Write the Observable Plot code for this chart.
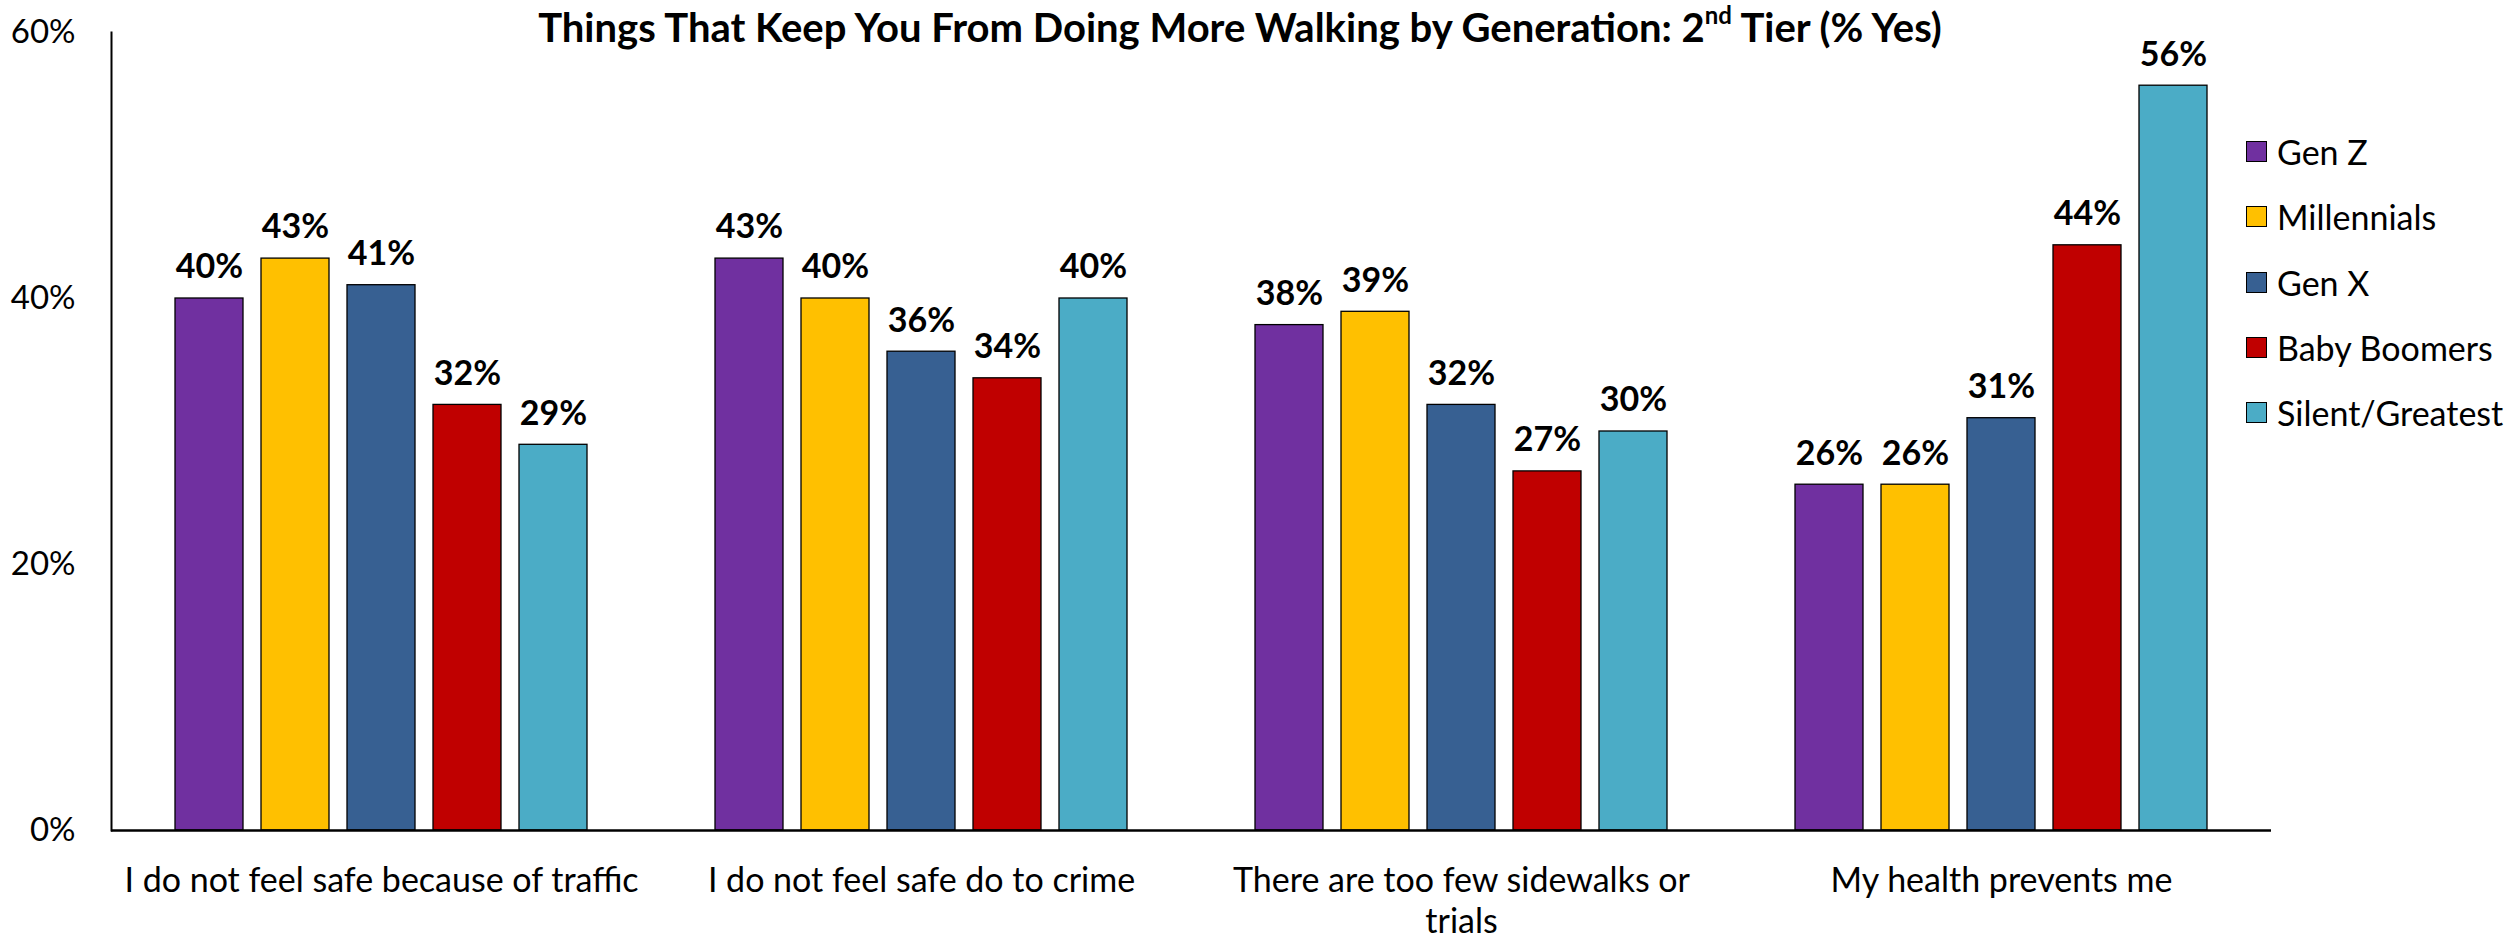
<!DOCTYPE html>
<html>
<head>
<meta charset="utf-8">
<script src="https://cdn.jsdelivr.net/npm/d3@7"></script>
<script src="https://cdn.jsdelivr.net/npm/@observablehq/plot@0.6"></script>
<style>
  html, body { margin: 0; padding: 0; background: #fff; }
  #wrap { position: relative; width: 2512px; height: 939px; font-family: Lato, "Open Sans", sans-serif; }
  #title { position: absolute; left: 0; width: 2480px; top: 4px; text-align: center; font-weight: bold; font-size: 40px; line-height: 46px; color: #000; }
  #title sup { font-size: 60%; line-height: 0; vertical-align: 0.75em; }
  #legend { position: absolute; left: 2246px; top: 119px; }
  .item { display: flex; align-items: center; height: 65.3px; font-size: 34px; color: #000; }
  .sw { width: 19px; height: 19px; border: 1.5px solid #000; margin-right: 10px; box-sizing: content-box; }
</style>
</head>
<body>
<div id="wrap">
  <div id="chart"></div>
  <div id="title"></div>
  <div id="legend"></div>
</div>
<script>
const titleMain = "Things That Keep You From Doing More Walking by Generation: 2";
const titleSup = "nd";
const titleEnd = " Tier (% Yes)";

const categories = [
  "I do not feel safe because of traffic",
  "I do not feel safe do to crime",
  "There are too few sidewalks or trials",
  "My health prevents me"
];
const categoryLabels = [
  "I do not feel safe because of traffic",
  "I do not feel safe do to crime",
  "There are too few sidewalks or\ntrials",
  "My health prevents me"
];
const generations = ["Gen Z", "Millennials", "Gen X", "Baby Boomers", "Silent/Greatest"];
const colors = ["#7030A0", "#FFC000", "#376092", "#C00000", "#4BACC6"];

const genZ        = [0.40, 0.43, 0.38, 0.26];
const millennials = [0.43, 0.40, 0.39, 0.26];
const genX        = [0.41, 0.36, 0.32, 0.31];
const boomers     = [0.32, 0.34, 0.27, 0.44];
const silent      = [0.29, 0.40, 0.30, 0.56];
const series = [genZ, millennials, genX, boomers, silent];

const yTicks = [0, 0.2, 0.4, 0.6];

const rows = [];
categories.forEach((c, i) => {
  generations.forEach((g, j) => rows.push({cat: c, gen: g, value: series[j][i]}));
});

const labelOf = new Map(categories.map((c, i) => [c, categoryLabels[i]]));
const pct = d3.format(".0%");

const chart = Plot.plot({
  width: 2512,
  height: 939,
  marginLeft: 111,
  marginRight: 241,
  marginTop: 32,
  marginBottom: 109,
  style: {fontFamily: "Lato, 'Open Sans', sans-serif", background: "#fff", color: "#000"},
  fx: {domain: categories, paddingInner: 0, paddingOuter: 0, label: null},
  x: {domain: generations, paddingInner: 0.208, paddingOuter: 0.725, axis: null},
  y: {domain: [0, 0.6], ticks: yTicks, label: null},
  color: {domain: generations, range: colors},
  marks: [
    Plot.axisY({ticks: yTicks, tickFormat: pct, tickSize: 0, tickPadding: 36, fontSize: 33, label: null}),
    Plot.axisFx({anchor: "bottom", tickSize: 0, tickPadding: 32, fontSize: 34, lineHeight: 1.22, tickFormat: d => labelOf.get(d), label: null}),
    Plot.barY(rows, {fx: "cat", x: "gen", y: "value", fill: "gen", stroke: "#000", strokeWidth: 1.3}),
    Plot.text(rows, {fx: "cat", x: "gen", y: "value", text: d => pct(d.value), dy: -31, fontSize: 34, fontWeight: "bold", fill: "#000"}),
    Plot.ruleY([0], {stroke: "#000", strokeWidth: 2.5}),
    Plot.frame({anchor: "left", facetAnchor: "left", stroke: "#000", strokeWidth: 2})
  ]
});
document.getElementById("chart").appendChild(chart);

const t = document.getElementById("title");
t.appendChild(document.createTextNode(titleMain));
const s = document.createElement("sup"); s.textContent = titleSup; t.appendChild(s);
t.appendChild(document.createTextNode(titleEnd));

const lg = document.getElementById("legend");
generations.forEach((g, i) => {
  const it = document.createElement("div"); it.className = "item";
  const sw = document.createElement("span"); sw.className = "sw"; sw.style.background = colors[i];
  const tx = document.createElement("span"); tx.textContent = g;
  it.appendChild(sw); it.appendChild(tx); lg.appendChild(it);
});
</script>
</body>
</html>
